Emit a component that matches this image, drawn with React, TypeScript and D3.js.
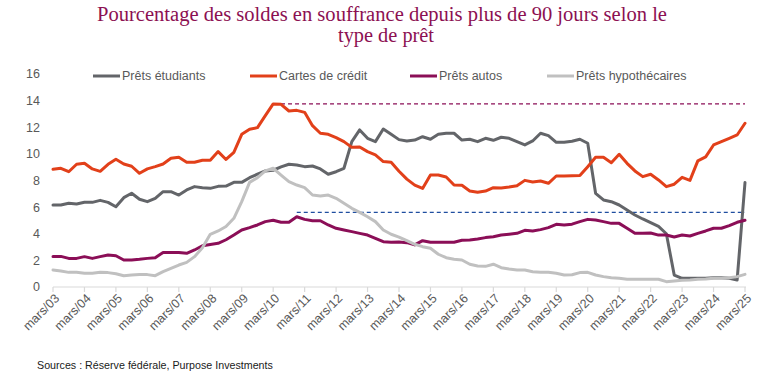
import React from "react";
import * as d3 from "d3";

const TITLE_1 = "Pourcentage des soldes en  souffrance depuis plus de 90 jours selon le";
const TITLE_2 = "type de prêt";
const SOURCE = "Sources : Réserve fédérale, Purpose Investments";

const QUARTER_MONTHS = ["mars", "juin", "sept", "déc"];
const YEARS = d3.range(3, 26).map((y) => String(y).padStart(2, "0"));
const categories: string[] = [];
YEARS.forEach((y, yi) => {
  QUARTER_MONTHS.forEach((m, qi) => {
    if (yi === YEARS.length - 1 && qi > 0) return;
    categories.push(`${m}/${y}`);
  });
});

const yTicks = [0, 2, 4, 6, 8, 10, 12, 14, 16];

const studentLoans = [
  6.16, 6.16, 6.29, 6.24, 6.36, 6.36, 6.51, 6.36, 6.03, 6.71, 7.04, 6.59, 6.41, 6.66, 7.16, 7.16,
  6.91, 7.29, 7.54, 7.46, 7.41, 7.56, 7.58, 7.86, 7.86, 8.21, 8.47, 8.72, 8.77, 9.02, 9.22, 9.17,
  9.04, 9.09, 8.87, 8.47, 8.66, 8.92, 10.92, 11.8, 11.17, 10.92, 11.87, 11.47, 11.07, 10.97, 11.04, 11.29,
  11.1, 11.47, 11.55, 11.55, 11.04, 11.1, 10.92, 11.17, 11.02, 11.25, 11.17, 10.92, 10.67, 10.97, 11.55, 11.37,
  10.87, 10.87, 10.95, 11.1, 10.8, 7.04, 6.54, 6.41, 6.16, 5.79, 5.41, 5.11, 4.83, 4.55, 4.0, 0.9,
  0.65, 0.65, 0.65, 0.65, 0.7, 0.7, 0.65, 0.53, 7.85,
];

const creditCards = [
  8.84, 8.92, 8.66, 9.22, 9.29, 8.87, 8.69, 9.22, 9.59, 9.24, 9.07, 8.54, 8.87, 9.04, 9.24, 9.67,
  9.74, 9.37, 9.37, 9.52, 9.52, 10.17, 9.58, 10.12, 11.47, 11.85, 11.97, 12.87, 13.75, 13.72, 13.22, 13.27,
  13.12, 12.12, 11.55, 11.47, 11.22, 10.92, 10.49, 10.52, 10.17, 9.92, 9.42, 9.37, 8.7, 8.1, 7.65, 7.4,
  8.41, 8.41, 8.26, 7.66, 7.64, 7.21, 7.11, 7.21, 7.46, 7.44, 7.51, 7.61, 8.01, 7.89, 7.96, 7.79,
  8.34, 8.34, 8.35, 8.37, 9.04, 9.74, 9.74, 9.34, 9.97, 9.29, 8.72, 8.29, 8.47, 8.04, 7.54, 7.72,
  8.24, 8.01, 9.47, 9.77, 10.67, 10.92, 11.17, 11.42, 12.3,
];

const autoLoans = [
  2.3, 2.3, 2.15, 2.15, 2.28, 2.15, 2.28, 2.4, 2.35, 2.03, 2.03, 2.08, 2.15, 2.2, 2.6, 2.6,
  2.6, 2.53, 2.78, 3.1, 3.2, 3.28, 3.55, 3.9, 4.28, 4.46, 4.66, 4.91, 5.01, 4.86, 4.86, 5.28,
  5.08, 4.98, 4.98, 4.66, 4.41, 4.28, 4.16, 4.03, 3.9, 3.66, 3.4, 3.36, 3.38, 3.33, 3.16, 3.48,
  3.36, 3.36, 3.36, 3.36, 3.51, 3.53, 3.61, 3.71, 3.78, 3.9, 3.96, 4.03, 4.26, 4.21, 4.31, 4.46,
  4.71, 4.66, 4.72, 4.91, 5.08, 5.03, 4.91, 4.78, 4.78, 4.41, 4.03, 4.03, 4.06, 3.9, 3.9, 3.76,
  3.9, 3.83, 4.03, 4.21, 4.41, 4.41, 4.61, 4.86, 5.01,
];

const mortgages = [
  1.28, 1.2, 1.1, 1.1, 1.03, 1.03, 1.1, 1.08, 1.0, 0.85, 0.9, 0.93, 0.93, 0.85, 1.15, 1.4,
  1.65, 1.85, 2.28, 2.95, 3.96, 4.21, 4.55, 5.16, 6.41, 7.86, 8.21, 8.72, 8.92, 8.41, 7.91, 7.66,
  7.46, 6.91, 6.84, 6.91, 6.66, 6.29, 5.91, 5.61, 5.28, 4.91, 4.28, 3.96, 3.75, 3.48, 3.21, 3.03,
  2.91, 2.46, 2.2, 2.08, 2.03, 1.71, 1.58, 1.55, 1.71, 1.45, 1.35, 1.28, 1.28, 1.15, 1.1, 1.1,
  1.03, 0.9, 0.92, 1.08, 1.1, 0.9, 0.78, 0.7, 0.65, 0.58, 0.58, 0.58, 0.58, 0.58, 0.4, 0.45,
  0.5, 0.53, 0.58, 0.6, 0.65, 0.65, 0.7, 0.78, 0.95,
];

// Reference lines: value and first category index
const refCreditPeak = { value: 13.75, start: 29 };
const refAutoPeak = { value: 5.6, start: 31 };

const seriesNames = ["Prêts étudiants", "Cartes de crédit", "Prêts autos", "Prêts hypothécaires"];
const seriesValues = [studentLoans, creditCards, autoLoans, mortgages];
const seriesColors = ["#636569", "#e2401a", "#8b0e57", "#c0c0c0"];

const W = 771;
const H = 378;
const M = { left: 53, right: 26, top: 74, bottom: 91 };

export default function App() {
  const x = d3
    .scaleLinear()
    .domain([0, categories.length - 1])
    .range([M.left, W - M.right]);
  const y = d3.scaleLinear().domain([0, 16]).range([H - M.bottom, M.top]);

  const line = d3
    .line<number>()
    .x((_, i) => x(i))
    .y((d) => y(d));

  const yearIdx = categories.map((c, i) => ({ c, i })).filter((d) => d.i % 4 === 0);
  const axisFont = "'Liberation Sans', Arial, sans-serif";
  const titleFont = "'Liberation Serif', 'DejaVu Serif', serif";
  const textColor = "#595959";

  const legendX = [93, 250, 410, 547];

  return (
    <svg
      width={W}
      height={H}
      style={{ position: "absolute", left: 0, top: 0, background: "#fff" }}
    >
      <rect width={W} height={H} fill="#fff" />
      <text
        x={97}
        y={21}
        textLength={570}
        lengthAdjust="spacingAndGlyphs"
        fontFamily={titleFont}
        fontSize={20}
        fill="#8c1052"
      >
        {TITLE_1}
      </text>
      <text
        x={338}
        y={42}
        textLength={96}
        lengthAdjust="spacingAndGlyphs"
        fontFamily={titleFont}
        fontSize={20}
        fill="#8c1052"
      >
        {TITLE_2}
      </text>

      {/* y tick labels */}
      {yTicks.map((t) => (
        <text
          key={t}
          x={40}
          y={y(t)}
          dy="0.35em"
          textAnchor="end"
          fontFamily={axisFont}
          fontSize={12.5}
          fill={textColor}
        >
          {t}
        </text>
      ))}

      {/* x axis */}
      <line x1={x(0)} x2={x(categories.length - 1) + 1} y1={y(0)} y2={y(0)} stroke="#d9d9d9" strokeWidth={1.2} />
      {yearIdx.map(({ c, i }) => (
        <g key={c}>
          <line x1={x(i)} x2={x(i)} y1={y(0)} y2={y(0) + 5} stroke="#d9d9d9" strokeWidth={1.2} />
          <text
            transform={`translate(${x(i) + 4},${y(0) + 9}) rotate(-45)`}
            textAnchor="end"
            dy="0.35em"
            fontFamily={axisFont}
            fontSize={12.5}
            fill={textColor}
          >
            {c}
          </text>
        </g>
      ))}

      {/* reference lines */}
      <line
        x1={x(refCreditPeak.start)}
        x2={x(categories.length - 1)}
        y1={y(refCreditPeak.value)}
        y2={y(refCreditPeak.value)}
        stroke="#8b0e57"
        strokeWidth={1.3}
        strokeDasharray="4,3"
      />
      <line
        x1={x(refAutoPeak.start)}
        x2={x(categories.length - 1)}
        y1={y(refAutoPeak.value)}
        y2={y(refAutoPeak.value)}
        stroke="#1f4ea0"
        strokeWidth={1.3}
        strokeDasharray="4,3"
      />

      {/* series */}
      {seriesValues.map((vals, k) => (
        <path
          key={seriesNames[k]}
          d={line(vals) || ""}
          fill="none"
          stroke={seriesColors[k]}
          strokeWidth={3}
          strokeLinejoin="round"
          strokeLinecap="round"
        />
      ))}

      {/* legend */}
      {seriesNames.map((n, k) => (
        <g key={n} transform={`translate(${legendX[k]},76)`}>
          <line x1={0} x2={27} y1={0} y2={0} stroke={seriesColors[k]} strokeWidth={3} />
          <text x={29} y={0} dy="0.35em" fontFamily={axisFont} fontSize={12.5} fill={textColor}>
            {n}
          </text>
        </g>
      ))}

      <text x={37} y={369} fontFamily={axisFont} fontSize={10.7} fill="#1a1a1a">
        {SOURCE}
      </text>
    </svg>
  );
}
